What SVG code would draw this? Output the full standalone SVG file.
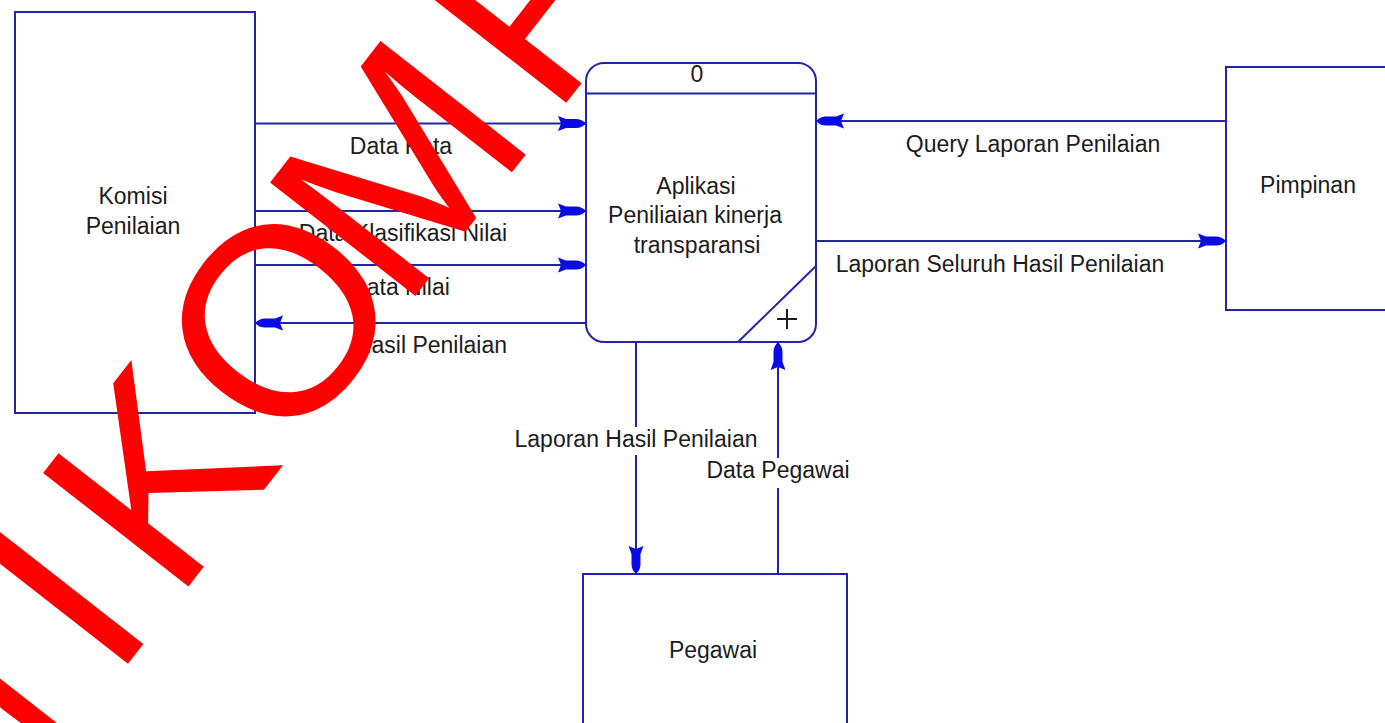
<svg xmlns="http://www.w3.org/2000/svg" width="1385" height="723" viewBox="0 0 1385 723">
  <style>
    .box { fill: #ffffff; stroke: #2424a6; stroke-width: 2; }
    .flow { fill: none; stroke: #2424a6; stroke-width: 2; marker-end: url(#ah); }
    .lbl { font-family: "Liberation Sans", Arial, sans-serif; font-size: 23px; fill: #1c1c1c; text-anchor: middle; }
    .mark { fill: none; stroke: #1c1c1c; stroke-width: 2; }
    .wm { font-family: "Liberation Sans", Arial, sans-serif; font-size: 268px; fill: #ff0000; }
  </style>
  <defs>
    <marker id="ah" markerUnits="userSpaceOnUse" orient="auto" overflow="visible" refX="0" refY="0" markerWidth="1" markerHeight="1">
      <path d="M0,0 C-3,-3 -6,-4.5 -10,-4.5 L-20,-4.5 L-28,-7.5 L-25,0 L-28,7.5 L-20,4.5 L-10,4.5 C-6,4.5 -3,3 0,0 Z" fill="#0a0ae6"/>
    </marker>
  </defs>

  <rect width="1385" height="723" fill="#ffffff"/>

  <!-- external entity: Komisi Penilaian -->
  <g id="komisi">
    <rect class="box" x="15" y="12" width="240" height="401"/>
    <text class="lbl" x="133" y="204">Komisi</text>
    <text class="lbl" x="133" y="234">Penilaian</text>
  </g>

  <!-- process 0 -->
  <g id="proses0">
    <rect class="box" x="586" y="63" width="230" height="279" rx="18" ry="18"/>
    <line x1="586" y1="93.5" x2="816" y2="93.5" stroke="#2424a6" stroke-width="2"/>
    <line x1="738" y1="342" x2="816" y2="266" stroke="#2424a6" stroke-width="2"/>
    <path class="mark" d="M777,319 H797 M787,309 V329"/>
    <text class="lbl" x="697" y="82">0</text>
    <text class="lbl" x="696" y="194">Aplikasi</text>
    <text class="lbl" x="695" y="223">Peniliaian kinerja</text>
    <text class="lbl" x="697" y="253">transparansi</text>
  </g>

  <!-- external entity: Pimpinan -->
  <g id="pimpinan">
    <rect class="box" x="1226" y="67" width="170" height="243"/>
    <text class="lbl" x="1308" y="193">Pimpinan</text>
  </g>

  <!-- external entity: Pegawai -->
  <g id="pegawai">
    <rect class="box" x="583" y="574" width="264" height="170"/>
    <text class="lbl" x="713" y="658">Pegawai</text>
  </g>

  <!-- data flows -->
  <g id="connectors">
    <path class="flow" d="M255,123.5 H586"/>
    <path class="flow" d="M255,211 H586"/>
    <path class="flow" d="M255,265 H586"/>
    <path class="flow" d="M586,323 H255"/>
    <path class="flow" d="M1226,121 H816"/>
    <path class="flow" d="M816,241 H1226"/>
    <path class="flow" d="M636,342 V574"/>
    <path class="flow" d="M778,574 V342"/>

    <text class="lbl" x="401" y="154">Data Kata</text>
    <text class="lbl" x="403" y="241">Data Klasifikasi Nilai</text>
    <text class="lbl" x="400" y="295">Data Nilai</text>
    <text class="lbl" x="431" y="353">Hasil Penilaian</text>
    <text class="lbl" x="1033" y="152">Query Laporan Penilaian</text>
    <text class="lbl" x="1000" y="272">Laporan Seluruh Hasil Penilaian</text>
    <rect x="512" y="427" width="248" height="28" fill="#ffffff"/>
    <text class="lbl" x="636" y="447">Laporan Hasil Penilaian</text>
    <rect x="705" y="458" width="147" height="30" fill="#ffffff"/>
    <text class="lbl" x="778" y="478">Data Pegawai</text>
  </g>

  <!-- diagonal watermark -->
  <g id="watermark" transform="translate(195,578) rotate(-52)">
    <text class="wm" x="-371 -133.6 -32.7 150.5 336 581" y="0">NIKOMP</text>
  </g>
</svg>
